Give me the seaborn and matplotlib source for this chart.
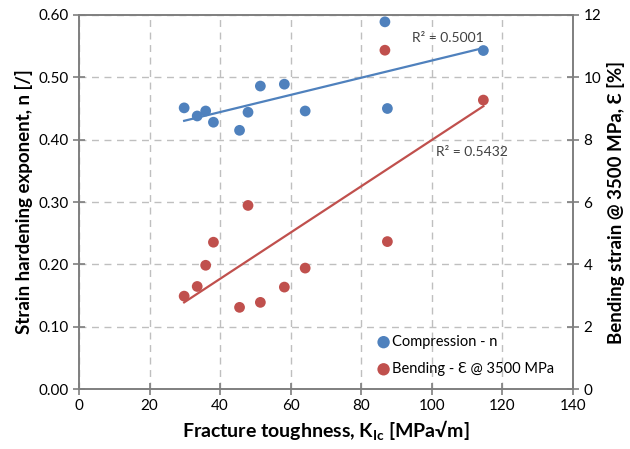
import numpy as np
import pandas as pd
import matplotlib
matplotlib.use('Agg')
import matplotlib.pyplot as plt
import seaborn as sns

# data
kic = [29.8, 33.5, 35.9, 38.1, 45.5, 47.9, 51.4, 58.2, 64.1, 86.7, 87.4, 114.6]
n_comp = [0.451, 0.438, 0.446, 0.428, 0.415, 0.444, 0.486, 0.489, 0.446, 0.589, 0.450, 0.543]
eps_bend = [2.98, 3.29, 3.97, 4.71, 2.62, 5.89, 2.78, 3.27, 3.88, 10.87, 4.73, 9.27]
r2_comp = 'R² = 0.5001'
r2_bend = 'R² = 0.5432'

blue = '#4F81BD'
red = '#C0504D'
grey = '#7f7f7f'

plt.rcParams['font.family'] = ['Lato', 'DejaVu Sans']
plt.rcParams['mathtext.fontset'] = 'custom'
plt.rcParams['mathtext.rm'] = 'Lato'
plt.rcParams['mathtext.bf'] = 'Lato:bold'

df = pd.DataFrame({'kic': kic, 'n': n_comp, 'eps': eps_bend})

fig = plt.figure(figsize=(6.3, 4.49), dpi=100)
ax = fig.add_axes([0.1254, 0.1336, 0.7841, 0.833])
ax2 = ax.twinx()

sns.scatterplot(data=df, x='kic', y='n', ax=ax, color=blue, s=60, edgecolor='none',
                label='Compression - n', zorder=3)
sns.regplot(data=df, x='kic', y='n', ax=ax, scatter=False, ci=None,
            line_kws={'color': blue, 'lw': 1.6})
sns.scatterplot(data=df, x='kic', y='eps', ax=ax2, color=red, s=60, edgecolor='none',
                label='Bending - Ɛ @ 3500 MPa', zorder=3)
sns.regplot(data=df, x='kic', y='eps', ax=ax2, scatter=False, ci=None,
            line_kws={'color': red, 'lw': 1.6})

ax.set_xlim(0, 140)
ax.set_ylim(0, 0.6)
ax2.set_ylim(0, 12)
ax.set_xticks(np.arange(0, 141, 20))
ax.set_yticks(np.arange(0, 0.61, 0.1))
ax.set_yticklabels([f'{v:.2f}' for v in np.arange(0, 0.61, 0.1)])
ax2.set_yticks(np.arange(0, 13, 2))

ax.grid(True, ls=(0, (5, 4)), color='#BFBFBF', lw=1)
ax.set_axisbelow(True)

for a in (ax, ax2):
    for sp in a.spines.values():
        sp.set_color(grey)
        sp.set_linewidth(1.2)
    a.tick_params(direction='inout', length=8, width=1.2, color=grey, labelsize=11)

ax.set_xlabel(r'Fracture toughness, K$_{\mathbf{Ic}}$ [MPa√m]', fontsize=14, fontweight='bold')
ax.set_ylabel('Strain hardening exponent, n [/]', fontsize=13.5, fontweight='bold')
ax2.set_ylabel('Bending strain @ 3500 MPa, Ɛ [%]', fontsize=13.5, fontweight='bold')

ax.text(94.3, 0.563, r2_comp, fontsize=10, va='center', ha='left', color='#404040')
ax.text(101.2, 0.381, r2_bend, fontsize=10, va='center', ha='left', color='#404040')

h1, l1 = ax.get_legend_handles_labels()
h2, l2 = ax2.get_legend_handles_labels()
ax.get_legend().remove() if ax.get_legend() else None
ax2.get_legend().remove() if ax2.get_legend() else None
ax2.legend(h1 + h2, l1 + l2, loc='upper left', bbox_to_anchor=(0.59, 0.16),
           frameon=False, fontsize=10.5, handletextpad=0.1, handlelength=1.0,
           labelspacing=0.9, borderaxespad=0, markerscale=1.15)

fig.savefig('out.png', dpi=100)
